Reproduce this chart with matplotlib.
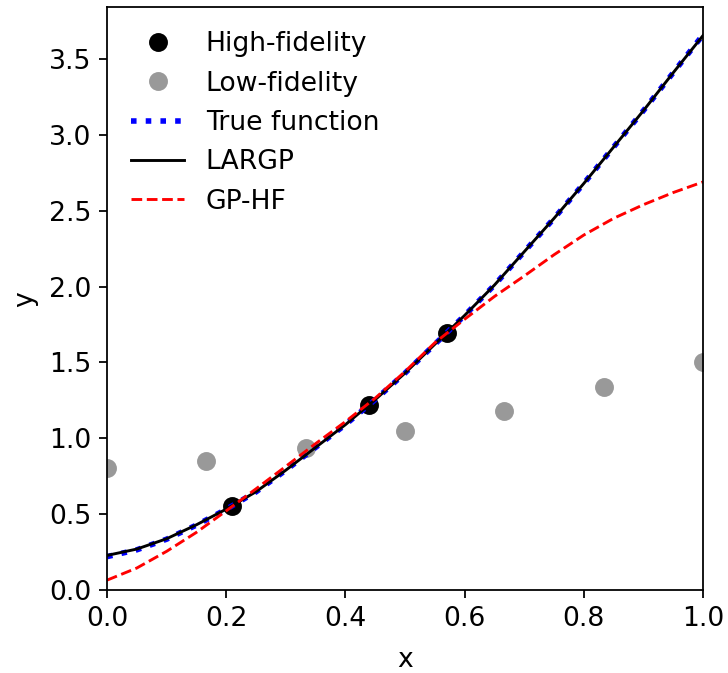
import numpy as np
import matplotlib
matplotlib.use("Agg")
import matplotlib.pyplot as plt

# high / low fidelity observations
x_hf = [0.21, 0.44, 0.57]
y_hf = [0.555, 1.222, 1.697]

x_lf = [0.0, 1/6, 1/3, 0.5, 2/3, 5/6, 1.0]
y_lf = [0.806, 0.852, 0.938, 1.05, 1.18, 1.34, 1.506]

x_grid = [0.00, 0.05, 0.10, 0.15, 0.20, 0.25, 0.30, 0.35, 0.40, 0.45, 0.50,
          0.55, 0.60, 0.65, 0.70, 0.75, 0.80, 0.85, 0.90, 0.95, 1.00]
y_true = [0.22, 0.265, 0.335, 0.428, 0.532, 0.647, 0.79, 0.94, 1.09, 1.255, 1.43,
          1.62, 1.81, 2.01, 2.23, 2.45, 2.68, 2.92, 3.16, 3.41, 3.66]
y_largp = [0.228, 0.27, 0.338, 0.43, 0.533, 0.648, 0.79, 0.94, 1.09, 1.255, 1.43,
           1.62, 1.81, 2.01, 2.23, 2.45, 2.68, 2.92, 3.16, 3.41, 3.655]
y_gphf = [0.065, 0.145, 0.255, 0.38, 0.522, 0.667, 0.815, 0.965, 1.11, 1.265, 1.44,
          1.63, 1.785, 1.935, 2.07, 2.21, 2.34, 2.45, 2.54, 2.62, 2.69]

plt.rcParams['font.size'] = 12
fig = plt.figure(figsize=(4.55, 4.20625), dpi=160)
ax = fig.add_axes([0.147, 0.1233, 0.8187, 0.8656])

ax.plot(x_hf, y_hf, 'o', color='black', markersize=7.5, label='High-fidelity')
ax.plot(x_lf, y_lf, 'o', color='#999999', markersize=7.5, label='Low-fidelity')
ax.plot(x_grid, y_true, ':', color='blue', linewidth=2.5, label='True function')
ax.plot(x_grid, y_largp, '-', color='black', linewidth=1.3, label='LARGP')
ax.plot(x_grid, y_gphf, '--', color='red', linewidth=1.3, label='GP-HF')

ax.set_xlim(0, 1)
ax.set_ylim(0, 3.84)
ax.set_xlabel('x', labelpad=7)
ax.set_ylabel('y', labelpad=5)
ax.legend(loc='upper left', frameon=False)

fig.savefig('out.png', dpi=160)
